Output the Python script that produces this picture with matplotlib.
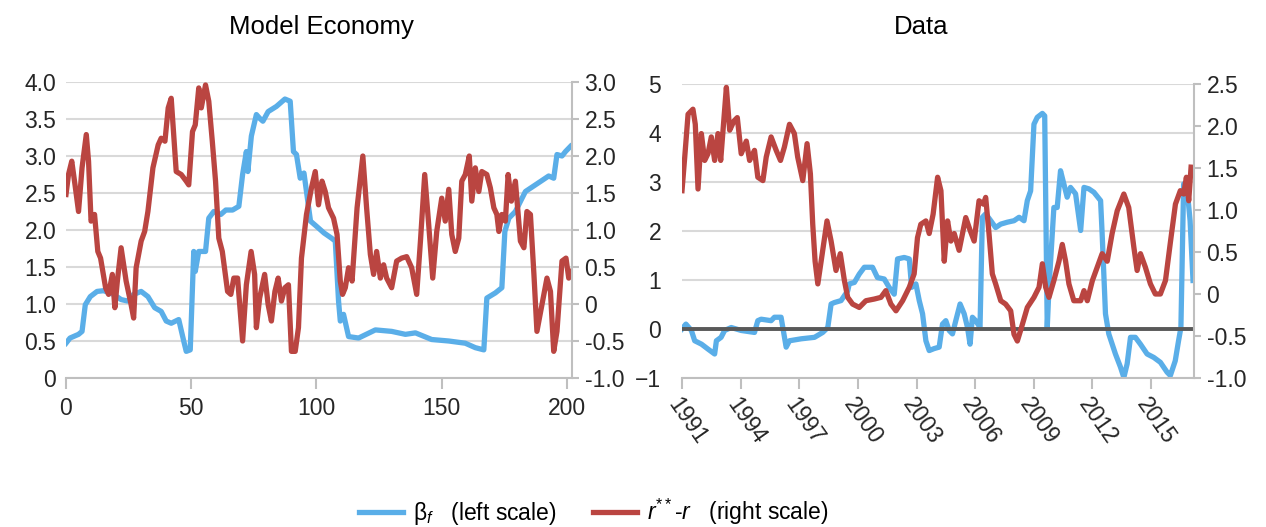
import numpy as np
import matplotlib
matplotlib.use('Agg')
import matplotlib.pyplot as plt
from matplotlib.lines import Line2D

plt.rcParams['font.family'] = ['Liberation Sans', 'DejaVu Sans']
plt.rcParams['mathtext.fontset'] = 'custom'
plt.rcParams['mathtext.rm'] = 'Liberation Sans'
plt.rcParams['mathtext.it'] = 'Liberation Sans:italic'

blue = '#5AAEE8'
red = '#BA4541'
grid = '#D9D9D9'
axis_grey = '#BFBFBF'

#Model economy: beta_f (left scale).
model_t_beta = [0, 1.6, 5, 6.4, 7.7, 9.7, 12.4, 15, 19, 22, 24.6, 27, 30, 32.7, 35.4, 38, 40, 42, 45, 47,
                48, 49.6, 51, 51.6, 53, 55.7, 57, 59, 61.8, 63.8, 66.5, 69, 70.5, 72, 72.6, 74, 76, 77.3,
                78.6, 80.7, 84, 87.4, 89.5, 90.8, 92, 93.5, 95, 97.6, 100, 103, 106, 107.5, 108.8, 109.5,
                110.8, 112.8, 116.8, 123.5, 130, 135.5, 139.5, 146, 152.8, 159.4, 163.4, 166.8, 168, 171.4,
                174, 175.2, 176.8, 179.4, 183.4, 187.4, 192.7, 194.7, 196, 198, 199.4, 201.4]
model_beta = [0.47, 0.54, 0.59, 0.63, 0.99, 1.10, 1.17, 1.18, 1.13, 1.06, 1.04, 1.13, 1.17, 1.10, 0.95, 0.90,
              0.77, 0.74, 0.79, 0.50, 0.36, 0.38, 1.71, 1.44, 1.71, 1.71, 2.16, 2.25, 2.21, 2.27, 2.27, 2.32,
              2.75, 3.06, 2.79, 3.27, 3.56, 3.51, 3.47, 3.60, 3.67, 3.77, 3.74, 3.06, 3.02, 2.70, 2.77, 2.12,
              2.05, 1.96, 1.89, 1.85, 1.04, 0.77, 0.86, 0.56, 0.54, 0.65, 0.63, 0.59, 0.61, 0.52, 0.50, 0.47,
              0.41, 0.38, 1.08, 1.15, 1.22, 1.98, 2.16, 2.25, 2.52, 2.61, 2.73, 2.70, 3.02, 3.00, 3.06, 3.13]

#Model economy: r**-r (right scale).
model_t_gap = [0, 1, 2.3, 3.6, 5, 6.4, 8.1, 9, 10, 11.4, 12.7, 13.8, 15.8, 17, 18.5, 19.5, 20.5, 22, 24, 26,
               27, 28, 30, 31.4, 32.7, 34.7, 36.8, 38, 39.5, 40.8, 42, 43, 44, 46, 48, 49, 50.5, 51.6, 53,
               54, 55.7, 57, 58.4, 59.7, 61, 62.4, 64.5, 65.8, 67, 68.5, 70.5, 72, 73.9, 75.3, 76, 77.3,
               79.3, 80.7, 82, 83.4, 84.7, 86, 87.4, 88.8, 90, 91.5, 92.8, 94, 96, 98, 99.5, 100.8, 102.2,
               103.5, 104.8, 106.8, 108.2, 109.5, 110.4, 111.5, 112.8, 114.2, 116.2, 118.5, 120, 121.5,
               122.8, 124, 125.5, 126.8, 128, 130, 132, 134, 136, 138, 140, 141.5, 143.2, 144.8, 146.4,
               148, 150, 151.4, 152.8, 154, 155.4, 156.8, 158, 159.4, 161, 162, 163.4, 164.8, 166, 168,
               169.4, 170.8, 172, 172.8, 174, 175.4, 176.5, 177.8, 179.4, 181.4, 182.8, 184, 185.4, 186.8,
               188, 190, 192, 193.4, 194.7, 196, 198, 199.6, 200.7, 202]
model_gap = [1.48, 1.75, 1.93, 1.61, 1.25, 1.84, 2.29, 1.93, 1.12, 1.21, 0.71, 0.62, 0.22, 0.13, 0.40, -0.05,
             0.31, 0.76, 0.31, -0.01, -0.19, 0.49, 0.85, 0.98, 1.25, 1.84, 2.15, 2.24, 2.20, 2.65, 2.78, 2.29,
             1.79, 1.75, 1.66, 1.61, 2.33, 2.42, 2.92, 2.65, 2.96, 2.74, 2.20, 1.66, 0.89, 0.71, 0.17, 0.13,
             0.35, 0.35, -0.50, 0.26, 0.71, 0.40, -0.32, 0.08, 0.40, -0.01, -0.23, 0.17, 0.35, 0.04, 0.22,
             0.26, -0.64, -0.64, -0.32, 0.62, 1.21, 1.57, 1.79, 1.34, 1.66, 1.52, 1.30, 1.16, 0.94, 0.31,
             0.13, 0.22, 0.49, 0.31, 1.30, 2.00, 1.30, 0.67, 0.40, 0.71, 0.35, 0.53, 0.35, 0.22, 0.58, 0.62,
             0.64, 0.49, 0.13, 0.85, 1.75, 1.07, 0.35, 0.98, 1.43, 1.12, 1.55, 0.94, 0.71, 0.89, 1.66, 1.75,
             2.00, 1.39, 1.84, 1.52, 1.79, 1.75, 1.57, 1.30, 1.21, 0.98, 1.21, 1.12, 1.75, 1.39, 1.66, 0.85,
             0.76, 1.25, 1.21, 0.40, -0.37, -0.01, 0.35, 0.17, -0.64, -0.37, 0.58, 0.62, 0.35, 0.44]

#Data: beta_f (left scale).
data_year_beta = [1991.0, 1991.2, 1991.48, 1991.65, 1992.0, 1992.33, 1992.67, 1992.76, 1993.0, 1993.18,
                  1993.52, 1994.03, 1994.71, 1994.88, 1995.05, 1995.56, 1995.73, 1996.07, 1996.33, 1996.5,
                  1997.1, 1997.78, 1998.2, 1998.46, 1998.63, 1998.8, 1999.14, 1999.48, 1999.56, 1999.82,
                  2000.07, 2000.33, 2000.75, 2001.0, 2001.35, 2001.6, 2001.86, 2002.03, 2002.37, 2002.63,
                  2002.75, 2002.97, 2003.14, 2003.31, 2003.48, 2003.65, 2003.9, 2004.16, 2004.33, 2004.5,
                  2004.67, 2004.84, 2005.01, 2005.23, 2005.44, 2005.61, 2005.74, 2005.86, 2006.03, 2006.25,
                  2006.37, 2006.54, 2006.8, 2007.05, 2007.31, 2007.65, 2007.99, 2008.25, 2008.5, 2008.67,
                  2008.84, 2009.01, 2009.18, 2009.44, 2009.56, 2009.69, 2009.78, 2010.03, 2010.2, 2010.37,
                  2010.54, 2010.71, 2010.88, 2011.14, 2011.4, 2011.57, 2011.82, 2012.08, 2012.42, 2012.5,
                  2012.67, 2012.84, 2013.18, 2013.44, 2013.61, 2013.78, 2013.95, 2014.2, 2014.46, 2014.8,
                  2015.14, 2015.48, 2015.82, 2015.99, 2016.24, 2016.41, 2016.53, 2016.67, 2016.84, 2017.0,
                  2017.15]
data_beta = [0.0, 0.10, -0.03, -0.24, -0.31, -0.41, -0.51, -0.24, -0.17, -0.03, 0.03, -0.03, -0.07, 0.17,
             0.20, 0.17, 0.24, 0.24, -0.37, -0.24, -0.20, -0.17, -0.07, 0.03, 0.51, 0.54, 0.58, 0.78, 0.92,
             0.95, 1.12, 1.26, 1.26, 1.05, 1.02, 0.85, 0.71, 1.43, 1.46, 1.43, 0.85, 0.92, 0.58, 0.31, -0.24,
             -0.44, -0.40, -0.37, 0.10, 0.17, -0.03, -0.10, 0.17, 0.51, 0.31, 0.03, -0.31, 0.24, 0.17, 0.03,
             2.28, 2.35, 2.21, 2.07, 2.14, 2.18, 2.21, 2.28, 2.21, 2.62, 2.82, 4.18, 4.32, 4.40, 4.35, 0.03,
             0.85, 2.48, 2.48, 3.23, 2.96, 2.69, 2.89, 2.76, 2.01, 2.89, 2.86, 2.79, 2.62, 1.94, 0.31, -0.10,
             -0.51, -0.78, -0.99, -0.71, -0.17, -0.17, -0.31, -0.51, -0.58, -0.68, -0.88, -0.95, -0.65,
             -0.24, 0.03, 2.96, 2.89, 2.21, 0.99]

#Data: r**-r (right scale).
data_year_gap = [1991.0, 1991.14, 1991.31, 1991.56, 1991.68, 1991.82, 1991.99, 1992.16, 1992.33, 1992.5,
                 1992.67, 1992.84, 1992.98, 1993.15, 1993.27, 1993.44, 1993.66, 1993.83, 1994.03, 1994.29,
                 1994.46, 1994.71, 1994.88, 1995.14, 1995.31, 1995.56, 1995.82, 1996.04, 1996.24, 1996.5,
                 1996.75, 1996.92, 1997.18, 1997.4, 1997.57, 1997.69, 1997.81, 1997.95, 1998.12, 1998.42,
                 1998.63, 1998.88, 1999.1, 1999.31, 1999.48, 1999.73, 2000.07, 2000.41, 2000.84, 2001.18,
                 2001.43, 2001.69, 2001.95, 2002.29, 2002.63, 2002.88, 2003.05, 2003.22, 2003.48, 2003.65,
                 2003.85, 2004.08, 2004.25, 2004.42, 2004.59, 2004.76, 2004.93, 2005.18, 2005.52, 2005.74,
                 2005.95, 2006.2, 2006.42, 2006.54, 2006.71, 2006.88, 2007.05, 2007.31, 2007.56, 2007.82,
                 2007.99, 2008.16, 2008.37, 2008.67, 2009.01, 2009.27, 2009.44, 2009.61, 2009.78, 2010.03,
                 2010.29, 2010.46, 2010.63, 2010.8, 2011.05, 2011.4, 2011.57, 2011.74, 2012.0, 2012.25,
                 2012.5, 2012.76, 2013.01, 2013.27, 2013.61, 2013.86, 2014.12, 2014.29, 2014.46, 2014.71,
                 2014.97, 2015.22, 2015.48, 2015.74, 2016.0, 2016.25, 2016.5, 2016.67, 2016.81, 2016.93,
                 2017.05]
data_gap = [1.23, 1.63, 2.14, 2.20, 2.02, 1.25, 1.91, 1.59, 1.67, 1.87, 1.59, 1.91, 1.59, 2.10, 2.46, 1.95,
            2.06, 2.10, 1.67, 1.82, 1.59, 1.71, 1.39, 1.35, 1.63, 1.87, 1.71, 1.59, 1.75, 2.02, 1.91, 1.63,
            1.35, 1.79, 1.43, 0.83, 0.39, 0.12, 0.39, 0.87, 0.63, 0.28, 0.48, 0.16, -0.04, -0.12, -0.16,
            -0.08, -0.06, -0.04, 0.04, -0.12, -0.20, -0.08, 0.08, 0.24, 0.67, 0.83, 0.87, 0.72, 0.95, 1.39,
            1.23, 0.39, 0.87, 0.63, 0.72, 0.52, 0.91, 0.76, 0.63, 1.11, 1.07, 1.15, 0.72, 0.24, 0.12, -0.08,
            -0.12, -0.20, -0.48, -0.56, -0.40, -0.16, -0.04, 0.08, 0.36, 0.08, -0.04, 0.16, 0.39, 0.59,
            0.39, 0.12, -0.08, -0.08, 0.04, -0.08, 0.16, 0.32, 0.48, 0.39, 0.72, 0.99, 1.19, 1.03, 0.56,
            0.28, 0.48, 0.32, 0.12, 0.00, 0.00, 0.16, 0.63, 1.07, 1.23, 1.19, 1.39, 1.11, 1.51]

model_xticks = [0, 50, 100, 150, 200]
model_left_ticks = [0, 0.5, 1.0, 1.5, 2.0, 2.5, 3.0, 3.5, 4.0]
model_left_labels = ['0', '0.5', '1.0', '1.5', '2.0', '2.5', '3.0', '3.5', '4.0']
model_right_ticks = [-1.0, -0.5, 0, 0.5, 1.0, 1.5, 2.0, 2.5, 3.0]
model_right_labels = ['-1.0', '-0.5', '0', '0.5', '1.0', '1.5', '2.0', '2.5', '3.0']
data_xticks = [1991, 1994, 1997, 2000, 2003, 2006, 2009, 2012, 2015]
data_left_ticks = [-1, 0, 1, 2, 3, 4, 5]
data_right_ticks = [-1.0, -0.5, 0, 0.5, 1.0, 1.5, 2.0, 2.5]
data_right_labels = ['-1.0', '-0.5', '0', '0.5', '1.0', '1.5', '2.0', '2.5']

fs = 16.5
lw = 3.8

def style_axes(ax, ax2):
	'''
	Excel-like look: only horizontal grid, grey bottom axis and grey secondary axis.
	'''
	for s in ['top', 'left', 'right']:
		ax.spines[s].set_visible(False)
	ax.spines['bottom'].set_color(axis_grey)
	ax.spines['bottom'].set_linewidth(1.5)
	for s in ['top', 'left', 'bottom']:
		ax2.spines[s].set_visible(False)
	ax2.spines['right'].set_color(axis_grey)
	ax2.spines['right'].set_linewidth(1.5)
	ax.grid(axis='y', color=grid, linewidth=1.5)
	ax.set_axisbelow(True)
	ax.tick_params(axis='y', length=0, pad=7, labelsize=fs, colors='#262626')
	ax.tick_params(axis='x', length=8, width=1.5, color=axis_grey, labelsize=fs, labelcolor='#262626')
	ax2.tick_params(axis='y', length=5, width=1.5, color=axis_grey, pad=4, labelsize=fs, labelcolor='#262626')

fig = plt.figure(figsize=(12.66, 5.27), dpi=100)

#Left panel: model economy.
ax1 = fig.add_axes([66/1266, 1-378/527, 506/1266, 296/527])
ax1.plot(model_t_beta, model_beta, color=blue, linewidth=lw, zorder=2)
ax1.set_xlim(0, 202)
ax1.set_ylim(0, 4)
ax1.set_xticks(model_xticks)
ax1.set_yticks(model_left_ticks)
ax1.set_yticklabels(model_left_labels)
ax1b = ax1.twinx()
ax1b.plot(model_t_gap, model_gap, color=red, linewidth=lw)
ax1b.set_ylim(-1, 3)
ax1b.set_yticks(model_right_ticks)
ax1b.set_yticklabels(model_right_labels)
style_axes(ax1, ax1b)
ax1.tick_params(axis='x', pad=6)
fig.text(321/1266, 1-27/527, 'Model Economy', ha='center', va='center', fontsize=18.5)

#Right panel: data.
ax2 = fig.add_axes([682/1266, 1-378/527, 512/1266, 294/527])
ax2.plot(data_year_beta, data_beta, color=blue, linewidth=lw, zorder=2)
ax2.axhline(0, color='#595959', linewidth=2.8, zorder=3)
ax2.set_xlim(1991, 2017.2)
ax2.set_ylim(-1, 5)
ax2.set_xticks(data_xticks)
ax2.set_xticklabels([str(y) for y in data_xticks], rotation=-55, ha='left', va='top',
                    rotation_mode='anchor')
ax2.set_yticks(data_left_ticks)
ax2b = ax2.twinx()
ax2b.plot(data_year_gap, data_gap, color=red, linewidth=lw)
ax2b.set_ylim(-1, 2.5)
ax2b.set_yticks(data_right_ticks)
ax2b.set_yticklabels(data_right_labels)
style_axes(ax2, ax2b)
ax2.tick_params(axis='y', pad=15)
ax2.tick_params(axis='x', pad=3)
fig.text(921/1266, 1-27/527, 'Data', ha='center', va='center', fontsize=18.5)

#Shared legend at the bottom.
handles = [Line2D([], [], color=blue, linewidth=lw), Line2D([], [], color=red, linewidth=lw)]
labels = [r'β$_{f}$   (left scale)', r'$r^{**}$-$r$   (right scale)']
fig.legend(handles, labels, loc='center', bbox_to_anchor=(594/1266, 1-512/527), ncol=2,
           frameon=False, fontsize=fs, handlelength=1.9, handletextpad=0.45, columnspacing=1.6)

fig.savefig('out.png', dpi=100)
